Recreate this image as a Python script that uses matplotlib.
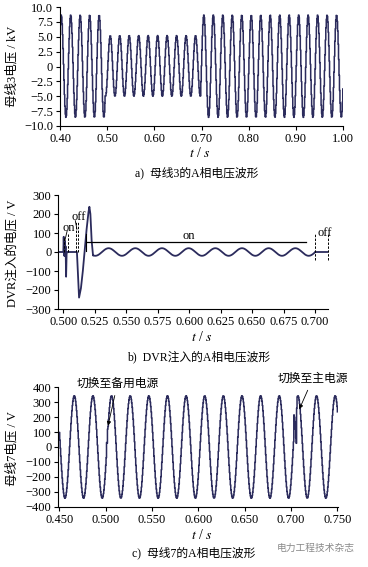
import numpy as np
import matplotlib.pyplot as plt

plt.rcParams['font.family'] = ['Liberation Serif', 'Noto Sans CJK SC']
plt.rcParams['mathtext.fontset'] = 'stix'
plt.rcParams['axes.linewidth'] = 0.8

LINE = '#2b2b5c'
PERIOD = 0.0201   # ~50 Hz read from peak spacing

# ---- panel a: bus 3 phase-A voltage (kV), three segments of the wave
a_seg_start = [0.400, 0.4955, 0.6975]
a_seg_end = [0.4955, 0.6975, 1.0005]
a_seg_amp = [8.6, 5.1, 8.6]
a_seg_offset = [0.05, 0.1, 0.05]
a_seg_peak = [0.4021, 0.5060, 0.7045]   # time of one crest in each segment
a_step = 0.001

# ---- panel b: DVR injected voltage (V)
b_start_t = [0.4960, 0.5000, 0.5003, 0.5007, 0.5010, 0.5014, 0.5018, 0.5022,
             0.5026, 0.5030, 0.5108]
b_start_v = [0, 0, 80, -20, 60, -20, 30, -130, -10, 0, 0]
b_big_t = [0.5125, 0.5140, 0.5155, 0.5170, 0.5185, 0.5200, 0.5207, 0.5215,
           0.5225, 0.5236]
b_big_v = [-240, -190, -100, 10, 120, 210, 238, 200, 60, -18]
b_ripple = dict(start=0.5236, end=0.7000, amp=20, peak=0.5360, period=0.0212)
b_end_t = [0.7000, 0.7106]
b_end_v = [0, 0]

# ---- panel c: bus 7 phase-A voltage (V)
c_range = [0.450, 0.7505]
c_amp = 343
c_peak = 0.466
c_step = 0.0005
c_glitch_t = [0.5010, 0.5015, 0.5020, 0.7030, 0.7035, 0.7040, 0.7045,
              0.7050, 0.7055, 0.7060]
c_glitch_v = [30, 25, 120, 215, 200, 170, 120, 60, 25, 260]


def wave(t0, t1, amp, off, peak, step, period=PERIOD):
    t = np.arange(t0, t1, step)
    return t, off + amp * np.cos(2 * np.pi * (t - peak) / period)


def style(ax):
    for s in ['top', 'right']:
        ax.spines[s].set_visible(False)
    ax.tick_params(direction='out', length=3, width=0.8, labelsize=9,
                   pad=2, colors='black')


fig = plt.figure(figsize=(3.68, 5.67), dpi=100)
fig.patch.set_facecolor('white')

# ================= panel a
ax1 = fig.add_axes([60 / 368, 1 - 126 / 567, 283 / 368, 119 / 567])
ta, va = [], []
for s, e, amp, off, pk in zip(a_seg_start, a_seg_end, a_seg_amp,
                              a_seg_offset, a_seg_peak):
    t, v = wave(s, e, amp, off, pk, a_step)
    ta.append(t)
    va.append(v)
ta = np.concatenate(ta)
va = np.concatenate(va)
ax1.plot(ta, va, color=LINE, lw=1.1, drawstyle='steps-post')
ax1.set_xlim(0.40, 1.00)
ax1.set_ylim(-10, 10)
ax1.set_xticks(np.arange(0.40, 1.001, 0.1))
ax1.set_xticklabels(['0.40', '0.50', '0.60', '0.70', '0.80', '0.90', '1.00'])
ax1.set_yticks(np.arange(-10, 10.01, 2.5))
ax1.set_yticklabels(['\u221210.0', '\u22127.5', '\u22125.0', '\u22122.5', '0',
                     '2.5', '5.0', '7.5', '10.0'])
style(ax1)

fig.text(12 / 368, 1 - 66 / 567, '母线3电压 / kV', rotation=90,
         ha='center', va='center', fontsize=9)
fig.text(200 / 368, 1 - 153 / 567, r'$t$ / $s$', ha='center', va='center',
         fontsize=10)
fig.text(197 / 368, 1 - 173 / 567, 'a)  母线3的A相电压波形', ha='center',
         va='center', fontsize=8.5)

# ================= panel b
ax2 = fig.add_axes([58.3 / 368, 1 - 309 / 567, 270 / 368, 114 / 567])
tr, vr = wave(b_ripple['start'], b_ripple['end'], b_ripple['amp'], 0,
              b_ripple['peak'], 0.0002, b_ripple['period'])
tb = np.concatenate([b_start_t, b_big_t, tr, b_end_t])
vb = np.concatenate([b_start_v, b_big_v, vr, b_end_v])
ax2.plot(tb, vb, color=LINE, lw=1.3)
ax2.set_xlim(0.496, 0.7106)
ax2.set_ylim(-300, 300)
ax2.set_xticks(np.arange(0.500, 0.7001, 0.025))
ax2.set_xticklabels(['0.500', '0.525', '0.550', '0.575', '0.600', '0.625',
                     '0.650', '0.675', '0.700'])
ax2.set_yticks(np.arange(-300, 301, 100))
ax2.set_yticklabels(['\u2212300', '\u2212200', '\u2212100', '0', '100', '200',
                     '300'])
style(ax2)

dash = dict(color='black', lw=0.7, ls=(0, (2.5, 1.5)), clip_on=False)
for x, top in [(0.5006, 80), (0.5040, 100), (0.5100, 165), (0.5118, 165)]:
    ax2.plot([x, x], [0, top], **dash)
for x in [0.7000, 0.7100]:
    ax2.plot([x, x], [-40, 100], **dash)
ax2.plot([0.5030, 0.5012], [110, 60], color='black', lw=0.6)
ax2.plot([0.5095, 0.5108], [165, 120], color='black', lw=0.6)
ax2.plot([0.5177, 0.5177], [5, 93], color='black', lw=0.8)
ax2.plot([0.5177, 0.6928], [55, 55], color='black', lw=0.9)
ax2.text(0.5046, 128, 'on', ha='center', va='center', fontsize=9)
ax2.text(0.5125, 186, 'off', ha='center', va='center', fontsize=9)
ax2.text(0.5995, 84, 'on', ha='center', va='center', fontsize=9)
ax2.text(0.7080, 100, 'off', ha='center', va='center', fontsize=9,
         clip_on=False)

fig.text(12 / 368, 1 - 253 / 567, 'DVR注入的电压 / V', rotation=90,
         ha='center', va='center', fontsize=9)
fig.text(201.7 / 368, 1 - 337 / 567, r'$t$ / $s$', ha='center', va='center',
         fontsize=10)
fig.text(199 / 368, 1 - 357 / 567, 'b)  DVR注入的A相电压波形', ha='center',
         va='center', fontsize=8.5)

# ================= panel c
ax3 = fig.add_axes([58.3 / 368, 1 - 506.7 / 567, 280 / 368, 119.4 / 567])
tc, vc = wave(c_range[0], c_range[1], c_amp, 0, c_peak, c_step)
for gt, gv in zip(c_glitch_t, c_glitch_v):
    vc[np.argmin(np.abs(tc - gt))] = gv
ax3.plot(tc, vc, color=LINE, lw=1.1, drawstyle='steps-post')
ax3.set_xlim(0.449, 0.751)
ax3.set_ylim(-400, 400)
ax3.set_xticks(np.arange(0.450, 0.7501, 0.05))
ax3.set_xticklabels(['0.450', '0.500', '0.550', '0.600', '0.650', '0.700',
                     '0.750'])
ax3.set_yticks(np.arange(-400, 401, 100))
ax3.set_yticklabels(['\u2212400', '\u2212300', '\u2212200', '\u2212100', '0',
                     '100', '200', '300', '400'])
style(ax3)

arr = dict(arrowstyle='-|>', color='black', lw=0.6, mutation_scale=6)
ax3.annotate('切换至备用电源', xy=(0.5020, 125), xytext=(0.5127, 422),
             ha='center', va='center', fontsize=8.5, arrowprops=arr,
             annotation_clip=False)
ax3.annotate('切换至主电源', xy=(0.7078, 237), xytext=(0.7234, 456),
             ha='center', va='center', fontsize=8.5, arrowprops=arr,
             annotation_clip=False)

fig.text(12 / 368, 1 - 449 / 567, '母线7电压 / V', rotation=90,
         ha='center', va='center', fontsize=9)
fig.text(201.7 / 368, 1 - 535 / 567, r'$t$ / $s$', ha='center', va='center',
         fontsize=10)
fig.text(194 / 368, 1 - 553 / 567, 'c)  母线7的A相电压波形', ha='center',
         va='center', fontsize=8.5)
fig.text(316 / 368, 1 - 548 / 567, '电力工程技术杂志', ha='center',
         va='center', fontsize=7, color='#8a8a8a',
         family=['Noto Sans CJK SC', 'DejaVu Sans'])

fig.savefig('out.png', dpi=100, facecolor='white')
